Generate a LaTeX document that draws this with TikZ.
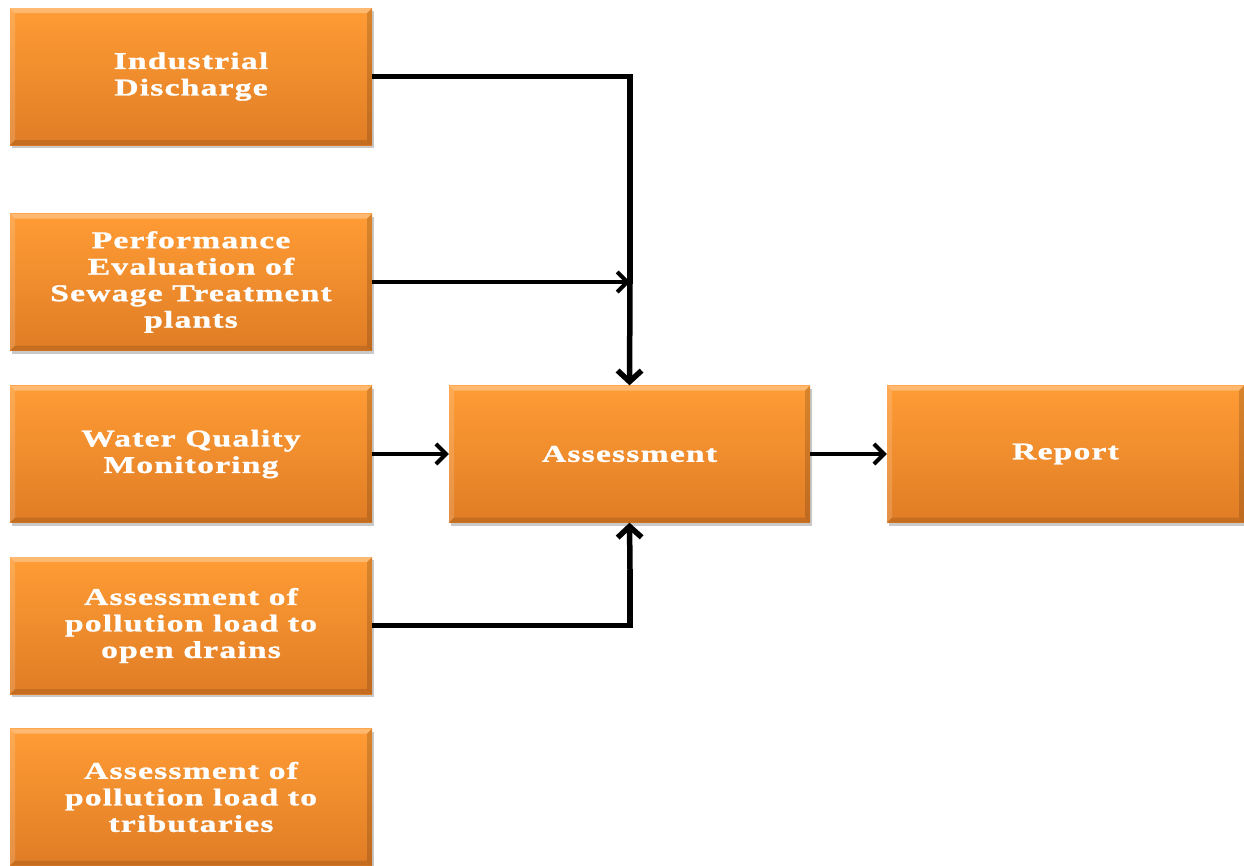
\documentclass[tikz,border=0pt]{standalone}
\usepackage{fontspec}
\newfontfamily\boxfont{Liberation Serif}[BoldFeatures={FakeStretch=1.4,LetterSpace=5,FakeBold=1.2},FakeStretch=1.4,LetterSpace=5]
\usetikzlibrary{arrows.meta,shadows}
\definecolor{orTop}{HTML}{FF9C35}
\definecolor{orBot}{HTML}{E07D25}
\tikzset{
  box/.style={rectangle, minimum width=362pt, minimum height=137pt, inner sep=0pt,
    top color=orTop, bottom color=orBot, draw=none, text=white, align=center,
    font=\boxfont\bfseries\fontsize{24}{26.5}\selectfont,
    drop shadow={shadow xshift=2pt, shadow yshift=-3pt, opacity=0.3, fill=black!70},
    path picture={
      \fill[white,opacity=0.3] (path picture bounding box.north west) -- (path picture bounding box.north east)
        -- ([xshift=-5pt,yshift=-5pt]path picture bounding box.north east) -- ([xshift=5pt,yshift=-5pt]path picture bounding box.north west) -- cycle;
      \fill[black,opacity=0.15] (path picture bounding box.north east) -- (path picture bounding box.south east)
        -- ([xshift=-5pt,yshift=5pt]path picture bounding box.south east) -- ([xshift=-5pt,yshift=-5pt]path picture bounding box.north east) -- cycle;
      \fill[black,opacity=0.12] (path picture bounding box.south west) -- (path picture bounding box.south east)
        -- ([xshift=-5pt,yshift=5pt]path picture bounding box.south east) -- ([xshift=5pt,yshift=5pt]path picture bounding box.south west) -- cycle;
      \fill[white,opacity=0.15] (path picture bounding box.north west) -- (path picture bounding box.south west)
        -- ([xshift=5pt,yshift=5pt]path picture bounding box.south west) -- ([xshift=5pt,yshift=-5pt]path picture bounding box.north west) -- cycle;
    }},
  conn/.style={line width=4pt, -{Straight Barb[length=10pt,width=20pt]}},
  link/.style={line width=5.5pt, line join=miter},
  thick conn/.style={line width=5.5pt, -{Straight Barb[length=11pt,width=24pt]}},
}
\begin{document}
\begin{tikzpicture}[x=1pt,y=-1pt]
\useasboundingbox (0,0) rectangle (1244,865);
\node[box] (ind) at (191,76.5) {Industrial\\Discharge};
\node[box] (perf) at (191,282) {Performance\\Evaluation of\\Sewage Treatment\\plants};
\node[box] (wq) at (191,454) {Water Quality\\Monitoring};
\node[box] (drain) at (191,625.5) {Assessment of\\pollution load to\\open drains};
\node[box] (trib) at (191,797) {Assessment of\\pollution load to\\tributaries};
\node[box, minimum width=361pt] (asmt) at (629.5,454) {Assessment};
\node[box, minimum width=357pt] (rep) at (1065.5,454) {Report};
\coordinate (topj) at (630,76.5);
\coordinate (perfj) at (630,282);
\coordinate (botj) at (630,625.5);
\coordinate (botm) at (630,570);
\draw[link] (ind.east) -- (topj) -- (perfj);
\draw[thick conn] (perfj) -- (asmt.north);
\draw[conn] (perf.east) -- (perfj);
\draw[conn] (wq.east) -- (asmt.west);
\draw[link] (drain.east) -- (botj) -- (botm);
\draw[thick conn] (botm) -- (asmt.south);
\draw[conn] (asmt.east) -- (rep.west);
\end{tikzpicture}
\end{document}
